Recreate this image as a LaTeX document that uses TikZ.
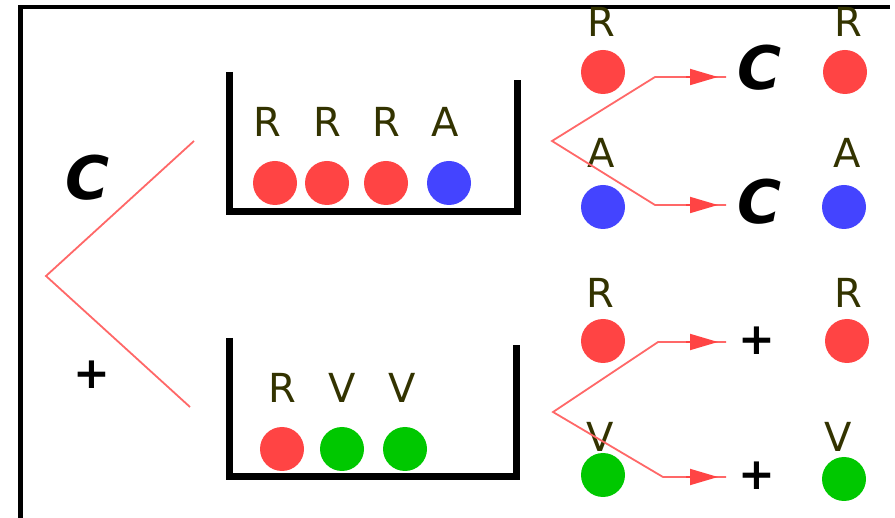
\documentclass[tikz,border=0pt]{standalone}
\usepackage{fontspec}
\setmainfont{DejaVu Sans}
\usetikzlibrary{arrows.meta}
\definecolor{ballred}{HTML}{FF4444}
\definecolor{ballblue}{HTML}{4444FF}
\definecolor{ballgreen}{HTML}{00C800}
\definecolor{labeltext}{HTML}{333300}
\definecolor{linkred}{HTML}{FF6868}
\definecolor{tipred}{HTML}{FF4444}

\begin{document}
\begin{tikzpicture}[x=1pt,y=-1pt,
  ball/.style={circle,minimum size=44pt,inner sep=0pt},
  red ball/.style={ball,fill=ballred},
  blue ball/.style={ball,fill=ballblue},
  green ball/.style={ball,fill=ballgreen},
  letter/.style={text=labeltext,font=\fontsize{40}{40}\selectfont,inner sep=0pt},
  csign/.style={inner sep=0pt,font=\fontsize{60}{60}\selectfont\bfseries\itshape},
  psign/.style={inner sep=0pt,font=\fontsize{44}{44}\selectfont\bfseries},
  wall/.style={line width=7pt},
  frameline/.style={line width=4.5pt},
  link/.style={draw=linkred,line width=1.8pt},
  tip/.style={draw=tipred,line width=1.8pt,-{Triangle[length=28pt,width=16pt]}},
]
\useasboundingbox (0,0) rectangle (895,518);

% outer frame (top and left edges)
\draw[frameline] (20.5,518) -- (20.5,7) -- (890,7);

% beakers
\draw[wall] (229,72) -- (229,212) -- (517,212) -- (517,80);
\draw[wall] (229,338) -- (229,477) -- (516,477) -- (516,345);

% contents of the upper beaker
\node[letter] (l1) at (267,122) {R};
\node[letter] (l2) at (327,122) {R};
\node[letter] (l3) at (386,122) {R};
\node[letter] (l4) at (445,122) {A};
\node[red ball]  (b1) at (275,183) {};
\node[red ball]  (b2) at (327,183) {};
\node[red ball]  (b3) at (386,183) {};
\node[blue ball] (b4) at (449,183) {};

% contents of the lower beaker
\node[letter] (m1) at (282,388) {R};
\node[letter] (m2) at (342,388) {V};
\node[letter] (m3) at (402,388) {V};
\node[red ball]   (d1) at (282,449) {};
\node[green ball] (d2) at (342,449) {};
\node[green ball] (d3) at (405,449) {};

% left branching
\node[csign] (lc) at (88,178) {C};
\node[psign] (lp) at (92,375) {+};
\coordinate (lsplit) at (46,276);
\coordinate (ltop) at (194,141);
\coordinate (lbot) at (190,407);
\draw[link] (ltop) -- (lsplit) -- (lbot);

% upper beaker: parents and offspring
\node[letter] (pa1) at (601,22) {R};
\node[red ball] (pb1) at (603,72) {};
\node[letter] (pa2) at (601,153) {A};
\node[blue ball] (pb2) at (603,207) {};
\node[csign] (s1) at (760,68) {C};
\node[csign] (s2) at (760,202) {C};
\node[letter] (oa1) at (848,22) {R};
\node[red ball] (ob1) at (845,72) {};
\node[letter] (oa2) at (847,153) {A};
\node[blue ball] (ob2) at (844,207) {};

\coordinate (usplit) at (552,141);
\coordinate (ubend1) at (655,77);
\coordinate (ubase1) at (686,77);
\coordinate (utip1) at (718,77);
\coordinate (uend1) at (726,77);
\coordinate (ubend2) at (655,205);
\coordinate (ubase2) at (686,205);
\coordinate (utip2) at (718,205);
\coordinate (uend2) at (726,205);
\draw[link] (uend1) -- (ubend1) -- (usplit) -- (ubend2) -- (uend2);
\draw[tip] (ubase1) -- (utip1);
\draw[tip] (ubase2) -- (utip2);

% lower beaker: parents and offspring
\node[letter] (qa1) at (600,293) {R};
\node[red ball] (qb1) at (603,341) {};
\node[letter] (qa2) at (600,437) {V};
\node[green ball] (qb2) at (603,475) {};
\node[psign] (t1) at (757,341) {+};
\node[psign] (t2) at (757,476) {+};
\node[letter] (ra1) at (848,293) {R};
\node[red ball] (rb1) at (847,341) {};
\node[letter] (ra2) at (838,437) {V};
\node[green ball] (rb2) at (844,479) {};

\coordinate (wsplit) at (553,412);
\coordinate (wbend1) at (658,342);
\coordinate (wbase1) at (686,342);
\coordinate (wtip1) at (718,342);
\coordinate (wend1) at (726,342);
\coordinate (wbend2) at (663,477);
\coordinate (wbase2) at (686,477);
\coordinate (wtip2) at (718,477);
\coordinate (wend2) at (726,477);
\draw[link] (wend1) -- (wbend1) -- (wsplit) -- (wbend2) -- (wend2);
\draw[tip] (wbase1) -- (wtip1);
\draw[tip] (wbase2) -- (wtip2);
\end{tikzpicture}
\end{document}
